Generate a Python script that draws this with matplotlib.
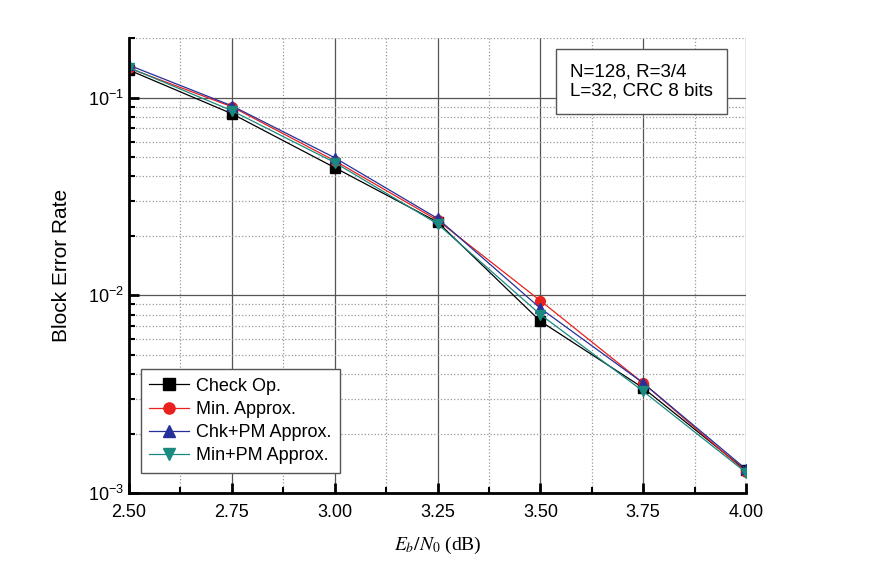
import numpy as np
import matplotlib
matplotlib.use('Agg')
import matplotlib.pyplot as plt
from matplotlib.ticker import LogLocator, MultipleLocator, NullFormatter

plt.rcParams['font.family'] = ['Liberation Sans', 'DejaVu Sans']

# data
ebn0 = [2.50, 2.75, 3.00, 3.25, 3.50, 3.75, 4.00]
check_op = [0.138, 0.083, 0.0443, 0.0235, 0.0074, 0.0034, 0.00130]
min_approx = [0.141, 0.090, 0.0480, 0.0240, 0.0094, 0.0036, 0.00128]
chk_pm = [0.146, 0.091, 0.0497, 0.0245, 0.0086, 0.0036, 0.00132]
min_pm = [0.142, 0.086, 0.0470, 0.0230, 0.0080, 0.00327, 0.00127]

labels = ['Check Op.', 'Min. Approx.', 'Chk+PM Approx.', 'Min+PM Approx.']
colors = ['#000000', '#e8221e', '#27309a', '#1a8a80']
markers = ['s', 'o', '^', 'v']

fig = plt.figure(figsize=(8.69, 5.79), dpi=100)
ax = fig.add_axes([0.1485, 0.1485, 0.71, 0.7855])

for y, lab, c, m in zip([check_op, min_approx, chk_pm, min_pm], labels, colors, markers):
    ax.plot(ebn0, y, color=c, marker=m, markersize=7, linewidth=0.9, label=lab)

ax.set_yscale('log')
ax.set_xlim(2.5, 4.0)
ax.set_ylim(1e-3, 0.2)

ax.xaxis.set_minor_locator(MultipleLocator(0.125))
ax.set_xticks(ebn0)
ax.set_xticklabels(['%.2f' % v for v in ebn0])
ax.yaxis.set_major_locator(LogLocator(base=10, numticks=10))
ax.yaxis.set_minor_locator(LogLocator(base=10, subs=np.arange(2, 10), numticks=20))
ax.yaxis.set_minor_formatter(NullFormatter())

ax.grid(which='major', color='#555555', linestyle='-', linewidth=0.9)
ax.grid(which='minor', color='#999999', linestyle=':', linewidth=0.9)
ax.set_axisbelow(True)

for s in ['top', 'right']:
    ax.spines[s].set_visible(False)
for s in ['left', 'bottom']:
    ax.spines[s].set_linewidth(2)

ax.tick_params(which='major', direction='in', length=7, width=2, labelsize=13)
ax.tick_params(which='minor', direction='in', length=4, width=1.5)
ax.tick_params(axis='x', pad=8)

ax.set_ylabel('Block Error Rate', fontsize=15, labelpad=12)
ax.set_xlabel(r'$E_b/N_0$ (dB)', fontsize=14, family='Liberation Serif', labelpad=10)
ax.xaxis.label.set_math_fontfamily('stix')

leg = ax.legend(loc='lower left', bbox_to_anchor=(0.005, 0.025), fontsize=13,
                handlelength=2.2, handletextpad=0.4, fancybox=False, framealpha=1,
                edgecolor='#555555', borderpad=0.45, labelspacing=0.35,
                markerscale=1.15)
leg.get_frame().set_linewidth(1)

ax.text(0.715, 0.905, 'N=128, R=3/4\nL=32, CRC 8 bits', transform=ax.transAxes,
        fontsize=13.5, va='center', ha='left', linespacing=1.2,
        bbox=dict(boxstyle='square,pad=0.75', facecolor='white', edgecolor='#555555'))

fig.savefig('out.png', dpi=100)
